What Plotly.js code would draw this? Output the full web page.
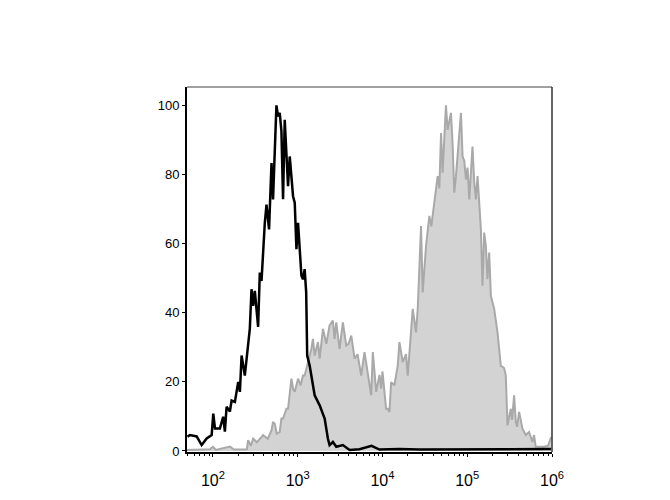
<!DOCTYPE html>
<html>
<head>
<meta charset="utf-8">
<script src="https://cdn.plot.ly/plotly-3.0.1.min.js"></script>
<style>html,body{margin:0;padding:0;background:#fff;}#chart{width:670px;height:500px;}</style>
</head>
<body>
<div id="chart"></div>
<script>
// Control (black, unfilled) histogram: log10 of fluorescence, % of max
const blackLogX = [1.70,1.729,1.808,1.867,1.926,1.985,2.004,2.024,2.082,2.121,2.141,2.161,2.200,2.220,2.259,2.298,2.318,2.338,2.376,2.435,2.455,2.474,2.494,2.533,2.553,2.573,2.612,2.632,2.662,2.691,2.709,2.749,2.768,2.788,2.808,2.827,2.847,2.867,2.886,2.906,2.945,2.965,2.985,3.004,3.024,3.044,3.062,3.082,3.100,3.112,3.141,3.161,3.200,3.259,3.318,3.356,3.376,3.415,3.455,3.533,3.612,3.729,3.871,3.965,4.200,4.435,4.788,5.141,5.494,5.988];
const blackY    = [4.1,4.6,4.2,1.7,3.6,4.6,10.8,6.5,6.5,9.9,5.6,12.8,11.4,14.6,14.2,20.0,17.1,27.6,21.8,35.3,46.8,42.0,46.3,35.9,51.6,49.2,66.0,71.3,64.1,83.3,72.8,100,96.8,97.8,92.5,72.8,95.8,87.2,76.6,85.2,73.7,71.8,58.4,66.0,58.4,50.7,49.7,52.6,45.9,27.6,24.7,21.8,16.1,13.2,9.4,3.6,1.7,2.6,1.2,1.7,0.3,0.5,1.5,0.4,0.6,0.4,0.5,0.4,0.5,0.6];

// Stained (grey, filled) histogram
const greyLogX = [1.694,1.965,2.000,2.035,2.200,2.247,2.400,2.415,2.447,2.474,2.518,2.592,2.647,2.691,2.709,2.729,2.753,2.788,2.808,2.827,2.867,2.886,2.926,2.945,2.965,3.004,3.035,3.062,3.082,3.118,3.161,3.180,3.200,3.239,3.259,3.298,3.338,3.376,3.415,3.435,3.455,3.494,3.533,3.573,3.600,3.632,3.671,3.706,3.749,3.788,3.827,3.867,3.886,3.926,3.965,3.985,4.000,4.043,4.062,4.082,4.102,4.141,4.180,4.200,4.239,4.278,4.298,4.338,4.357,4.396,4.416,4.455,4.474,4.514,4.533,4.553,4.576,4.612,4.651,4.671,4.691,4.709,4.749,4.768,4.808,4.827,4.847,4.867,4.906,4.926,4.945,4.965,4.985,5.004,5.024,5.044,5.062,5.082,5.102,5.122,5.141,5.161,5.180,5.200,5.220,5.239,5.259,5.279,5.318,5.357,5.396,5.435,5.455,5.475,5.514,5.529,5.553,5.573,5.588,5.612,5.651,5.690,5.729,5.769,5.788,5.808,5.906,5.953,5.984,5.990];
const greyY    = [0.3,0.5,1.2,0.3,1.3,0.4,0.5,3.1,1.5,3.6,2.5,4.6,3.5,6.0,8.4,7.9,5.0,5.5,9.4,9.4,12.2,12.2,20.9,18.0,17.1,20.9,19.0,21.8,21.8,25.0,29.5,32.4,27.6,31.5,26.7,35.3,31.0,36.3,37.7,32.4,37.2,29.5,37.2,30.5,31.0,33.4,26.7,28.0,21.8,28.6,22.8,16.1,28.6,17.1,22.0,18.0,23.0,12.2,12.2,11.3,19.9,19.0,24.7,31.5,25.7,28.0,21.8,33.4,41.1,34.3,41.1,65.1,45.9,59.3,63.2,68.0,65.0,72.8,79.5,76.0,92.0,80.5,100,92.9,97.8,89.1,74.7,79.5,90.1,97.8,85.2,84.0,78.5,82.0,72.8,80.0,88.1,78.0,72.8,79.5,71.8,64.1,47.8,63.2,59.3,49.7,57.4,44.9,41.1,34.3,24.7,24.0,21.8,7.4,12.2,9.0,16.1,8.4,7.0,11.3,6.5,4.6,5.5,2.6,4.6,1.2,1.2,1.5,3.6,4.0];

const xTickExp = [2,3,4,5,6];
const yTicks = [0,20,40,60,80,100];

const toLin = a => a.map(v => Math.pow(10, v));
const minorVals = [];
for (let e = 1; e < 6; e++) for (let m = 2; m <= 9; m++) minorVals.push(m * Math.pow(10, e));

const traces = [
  {x: toLin(greyLogX), y: greyY, type: 'scatter', mode: 'lines', fill: 'tozeroy',
   fillcolor: '#d3d3d3', line: {color: '#a9a9a9', width: 2}, hoverinfo: 'skip'},
  {x: toLin(blackLogX), y: blackY, type: 'scatter', mode: 'lines',
   line: {color: '#000000', width: 2.5}, hoverinfo: 'skip'}
];

const layout = {
  width: 670, height: 500,
  margin: {l: 187, r: 118, t: 87, b: 48},
  paper_bgcolor: '#fff', plot_bgcolor: '#fff',
  showlegend: false,
  font: {family: 'Liberation Sans, Arial, sans-serif', color: '#000'},
  xaxis: {
    type: 'log', range: [1.694, 6.0],
    tickvals: xTickExp.map(e => Math.pow(10, e)),
    ticktext: xTickExp.map(e => '10<sup>' + e + '</sup>'),
    ticks: 'outside', ticklen: 3, tickwidth: 1, tickcolor: '#000',
    ticklabelstandoff: 10,
    tickfont: {size: 16, color: '#000'},
    showgrid: false, zeroline: false,
    showline: true, linecolor: '#000', linewidth: 2,
    minor: {tickvals: minorVals, ticks: 'outside', ticklen: 2, tickcolor: '#000', showgrid: false}
  },
  yaxis: {
    range: [-0.3, 105.3],
    tickvals: yTicks, ticktext: yTicks.map(String),
    ticks: 'outside', ticklen: 3, tickwidth: 1, tickcolor: '#000',
    tickfont: {size: 13, color: '#000'},
    showgrid: false, zeroline: false,
    showline: true, linecolor: '#000', linewidth: 2
  },
  shapes: [
    {type: 'line', xref: 'paper', yref: 'paper', x0: 0, x1: 1, y0: 1, y1: 1, line: {color: '#808080', width: 1.5}},
    {type: 'line', xref: 'paper', yref: 'paper', x0: 1, x1: 1, y0: 0, y1: 1, line: {color: '#333333', width: 1.5}}
  ]
};

Plotly.newPlot('chart', traces, layout, {displayModeBar: false, staticPlot: true});
</script>
</body>
</html>
